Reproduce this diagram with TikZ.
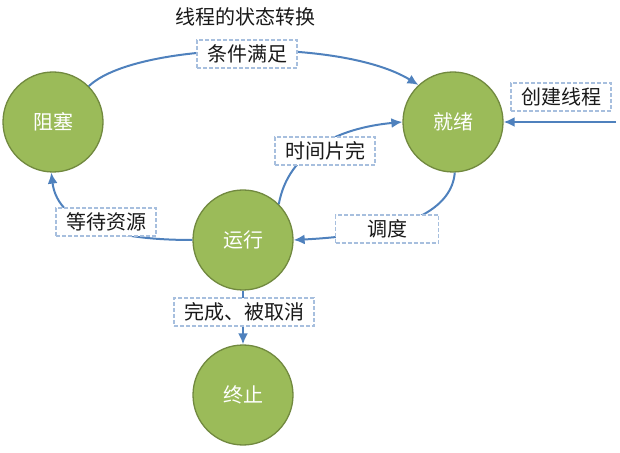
\documentclass[tikz,border=0pt]{standalone}
\usepackage{fontspec}
\newfontfamily\cjk{Noto Sans CJK SC}
\usetikzlibrary{arrows.meta}
\definecolor{stfill}{HTML}{9BBB59}
\definecolor{stline}{HTML}{71893F}
\definecolor{arr}{HTML}{4F81BD}
\definecolor{lblline}{HTML}{A7BFDE}
\tikzset{
  state/.style={circle, minimum size=100pt, inner sep=0pt, fill=stfill, draw=stline, line width=1.3pt, text=white, font=\cjk\fontsize{20}{24}\selectfont},
  lbl/.style={rectangle, fill=white, draw=lblline, line width=1.2pt, dash pattern=on 4pt off 2pt, minimum height=28pt, inner xsep=10pt, inner ysep=2pt, text=black!90, font=\cjk\fontsize{20}{24}\selectfont},
  conn/.style={draw=arr, line width=2pt, -{Latex[length=11pt,width=10pt]}},
  ttl/.style={font=\cjk\fontsize{20}{24}\selectfont, text=black!90}
}
\begin{document}
\begin{tikzpicture}[x=1pt,y=1pt]
\useasboundingbox (0,0) rectangle (620,452);
\node[state] (zs) at (53,330) {阻塞};
\node[state] (jx) at (453,330) {就绪};
\node[state] (yx) at (243,212) {运行};
\node[state] (zz) at (243,57) {终止};
\node[ttl] (title) at (245,435) {线程的状态转换};
\coordinate (src) at (616,330);
% connectors
\draw[conn] (zs.45) .. controls (135,410) and (340,415) .. (jx.133);
\draw[conn] (jx.-88) .. controls (452,245) and (412,218) .. (yx.east);
\draw[conn] (yx.45) .. controls (288,300) and (338,324) .. (jx.west);
\draw[conn] (yx.west) .. controls (120,212) and (58,225) .. (zs.-92);
\draw[conn] (yx.south) -- (zz.north);
\draw[conn] (src) -- (jx.east);
% labels
\node[lbl] (l1) at (247,398) {条件满足};
\node[lbl] (l2) at (561,355) {创建线程};
\node[lbl] (l3) at (325,301) {时间片完};
\node[lbl] (l4) at (106,230) {等待资源};
\node[lbl, minimum width=103pt] (l5) at (387,223) {调度};
\node[lbl] (l6) at (244,140) {完成、被取消};
\end{tikzpicture}
\end{document}
